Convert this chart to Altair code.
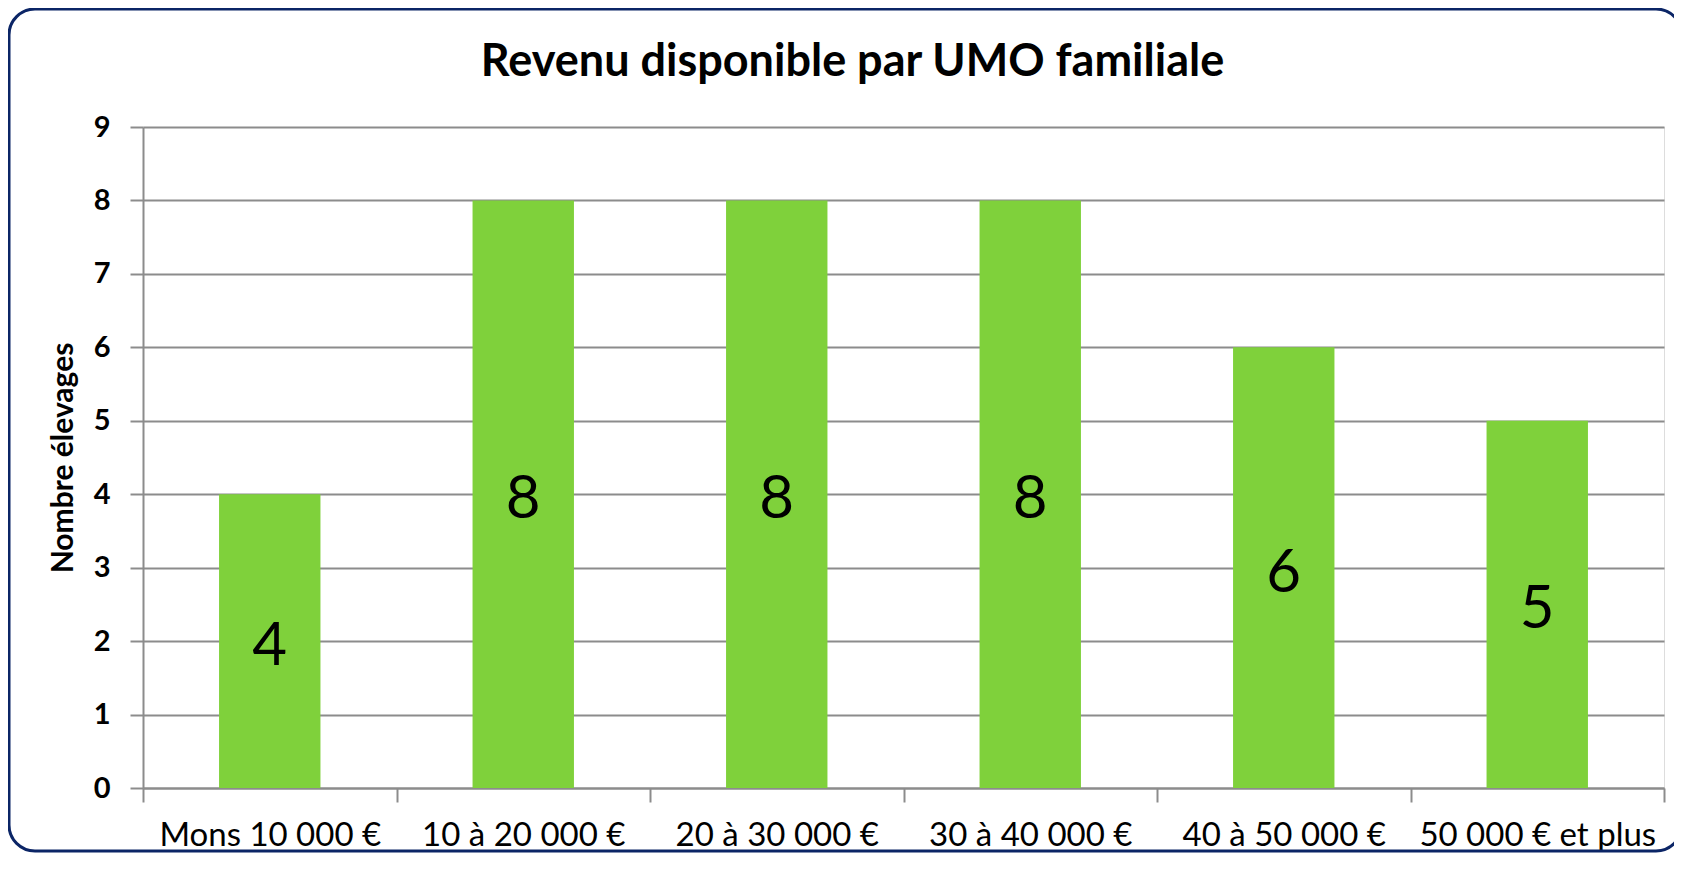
import altair as alt
import pandas as pd

categories = ["Mons 10 000 €", "10 à 20 000 €", "20 à 30 000 €",
              "30 à 40 000 €", "40 à 50 000 €", "50 000 € et plus"]
values = [4, 8, 8, 8, 6, 5]
y_ticks = [0, 1, 2, 3, 4, 5, 6, 7, 8, 9]

df = pd.DataFrame({"cat": categories, "val": values})
df["half"] = df["val"] / 2

W, H = 1521, 661
PAD = {"left": 135, "top": 119, "right": 10, "bottom": 65}
FONT = "Lato"
GRID = "#8c8c8c"

x_enc = alt.X("cat:N", sort=categories, title=None,
              scale=alt.Scale(paddingInner=0, paddingOuter=0),
              axis=alt.Axis(tickBand="extent", grid=False, labelAngle=0, labelLimit=0,
                            labelFont=FONT, labelFontSize=33, labelColor="#000000",
                            labelPadding=17, tickSize=14, tickWidth=2, tickColor=GRID,
                            domainColor=GRID, domainWidth=2))

y_enc = alt.Y("val:Q", title="Nombre élevages",
              scale=alt.Scale(domain=[0, 9], nice=False),
              axis=alt.Axis(values=y_ticks, format="d", grid=True, gridColor=GRID, gridWidth=2,
                            tickSize=13, tickWidth=2, tickColor=GRID,
                            domainColor=GRID, domainWidth=2,
                            labelFont=FONT, labelFontSize=29, labelFontWeight="bold",
                            labelColor="#000000", labelPadding=20,
                            titleFont=FONT, titleFontSize=30, titleFontWeight="bold",
                            titleColor="#000000", titleAngle=270, titleX=-80, titleY=H / 2,
                            titleAlign="center", titleBaseline="middle"))

bars = alt.Chart(df).mark_bar(color="#7fd13b", width=alt.RelativeBandSize(0.4)).encode(
    x=x_enc, y=y_enc)

labels = alt.Chart(df).mark_text(font=FONT, fontSize=60, color="#000000",
                                 baseline="middle", dy=6).encode(
    x=alt.X("cat:N", sort=categories),
    y=alt.Y("half:Q"),
    text=alt.Text("val:Q"),
)

frame = alt.Chart(alt.Data(values=[{}])).mark_rect(
    fillOpacity=0, stroke="#0b2566", strokeWidth=3, cornerRadius=26
).encode(
    x=alt.value(-134), x2=alt.value(W + PAD["right"] + 8),
    y=alt.value(-118), y2=alt.value(H + PAD["bottom"] - 2),
)

chart = alt.layer(frame, bars, labels).properties(
    width=W, height=H,
    padding=PAD,
    autosize=alt.AutoSizeParams(type="none"),
    title=alt.TitleParams("Revenu disponible par UMO familiale", font=FONT,
                          fontSize=45, fontWeight="bold", color="#000000",
                          anchor="middle", dx=-51, offset=0, dy=113, baseline="alphabetic"),
).configure_view(stroke=None).configure(background="#ffffff")

chart.save("out.html", embed_options={"renderer": "svg", "actions": False})
